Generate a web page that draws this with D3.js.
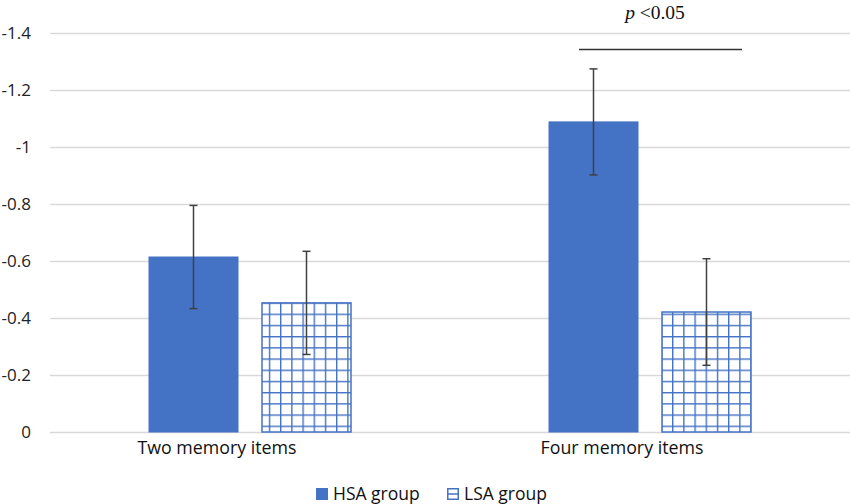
<!DOCTYPE html>
<html><head><meta charset="utf-8">
<script src="https://cdn.jsdelivr.net/npm/d3@7"></script>
<style>body{margin:0;background:#fff}svg{display:block}</style>
</head><body>
<svg id="c" width="850" height="504"></svg>
<script>
const categories = ["Two memory items", "Four memory items"];
const seriesNames = ["HSA group", "LSA group"];
const hsaValues = [-0.614, -1.088];
const lsaValues = [-0.453, -0.421];
const hsaErrors = [0.181, 0.186];
const lsaErrors = [0.181, 0.187];
const yTicks = [0, -0.2, -0.4, -0.6, -0.8, -1, -1.2, -1.4];

const svg = d3.select("#c");
const blue = "#4472C4";
const font = "'Open Sans', Lato, sans-serif";
const defs = svg.append("defs");
const pat = defs.append("pattern").attr("id", "grid").attr("patternUnits", "userSpaceOnUse")
  .attr("width", 11.2).attr("height", 11.2);
pat.append("rect").attr("width", 11.2).attr("height", 11.2).attr("fill", "#fff");
pat.append("path").attr("d", "M0,0.5H11.2M0.5,0V11.2").attr("stroke", blue).attr("stroke-width", 1.8);

const x0 = d3.scaleBand().domain(categories).range([50, 850]);
const y = d3.scaleLinear().domain([0, -1.4]).range([432, 33]);

// gridlines
svg.append("g").selectAll("line").data(yTicks).join("line")
  .attr("x1", 50).attr("x2", 850)
  .attr("y1", d => Math.round(y(d)) + 0.5).attr("y2", d => Math.round(y(d)) + 0.5)
  .attr("stroke", "#d9d9d9").attr("stroke-width", 1.5);

// y axis labels
const yAxis = d3.axisLeft(y).tickValues(yTicks).tickSize(0).tickPadding(0)
  .tickFormat(d => d === 0 ? "0" : String(d));
const ya = svg.append("g").attr("transform", "translate(31,0)").call(yAxis);
ya.select(".domain").remove();
ya.selectAll("text").attr("font-family", font).attr("font-size", 17).attr("fill", "#222");

const data = categories.map((c, i) => [
  {cat: c, s: 0, v: hsaValues[i], e: hsaErrors[i]},
  {cat: c, s: 1, v: lsaValues[i], e: lsaErrors[i]}
]).flat();

const barOffsets = [-101, 12];
const bw = 89;
const bars = svg.append("g");
bars.selectAll("rect").data(data).join("rect")
  .attr("x", d => x0(d.cat) + x0.bandwidth() / 2 + barOffsets[d.s])
  .attr("y", d => y(d.v))
  .attr("width", bw)
  .attr("height", d => y(0) - y(d.v))
  .attr("fill", d => d.s === 0 ? blue : "url(#grid)")
  .attr("stroke", blue).attr("stroke-width", d => d.s === 0 ? 1 : 1.5);

// error bars
const eg = svg.append("g").attr("stroke", "#404040").attr("stroke-width", 1.5);
data.forEach(d => {
  const cx = x0(d.cat) + x0.bandwidth() / 2 + barOffsets[d.s] + bw / 2;
  const yt = y(d.v - d.e), yb = y(d.v + d.e);
  eg.append("line").attr("x1", cx).attr("x2", cx).attr("y1", yt).attr("y2", yb);
  eg.append("line").attr("x1", cx - 4).attr("x2", cx + 4).attr("y1", yt).attr("y2", yt);
  eg.append("line").attr("x1", cx - 4).attr("x2", cx + 4).attr("y1", yb).attr("y2", yb);
});

// category labels
svg.append("g").selectAll("text").data(categories).join("text")
  .attr("x", (d, i) => x0(d) + x0.bandwidth() / 2 - [33, 28][i])
  .attr("y", 454)
  .attr("text-anchor", "middle")
  .attr("font-family", font).attr("font-size", 17.8).attr("fill", "#111")
  .text(d => d);

// significance
const c4 = x0(categories[1]) + x0.bandwidth() / 2;
svg.append("line").attr("x1", c4 - 71).attr("x2", c4 + 92).attr("y1", 49.5).attr("y2", 49.5)
  .attr("stroke", "#333").attr("stroke-width", 1.3);
const pt = svg.append("text").attr("x", c4 + 5).attr("y", 19).attr("text-anchor", "middle")
  .attr("font-family", "'Liberation Serif', 'Times New Roman', serif").attr("font-size", 19.5).attr("fill", "#111");
pt.append("tspan").attr("font-style", "italic").text("p");
pt.append("tspan").text(" <0.05");

// legend
const lg = svg.append("g");
const legX = [316, 447];
seriesNames.forEach((s, i) => {
  lg.append("rect").attr("x", legX[i] + 0.75).attr("y", 488.75).attr("width", 10.5).attr("height", 10.5)
    .attr("fill", i === 0 ? blue : "#fff").attr("stroke", blue).attr("stroke-width", 1.5);
  if (i === 1) lg.append("line").attr("x1", legX[i]).attr("x2", legX[i] + 12).attr("y1", 494).attr("y2", 494)
    .attr("stroke", blue).attr("stroke-width", 1.5);
  lg.append("text").attr("x", legX[i] + 17).attr("y", 499.5)
    .attr("font-family", font).attr("font-size", 17.5).attr("fill", "#111").text(s);
});
</script>
</body></html>
